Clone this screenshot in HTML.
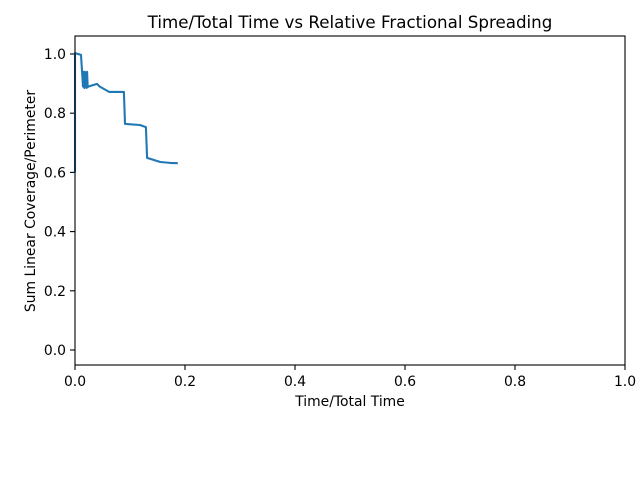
<!DOCTYPE html>
<html><head><meta charset="utf-8"><style>
body{margin:0;background:#fff;font-family:"Liberation Sans","DejaVu Sans",sans-serif}
</style></head><body>
<svg id="chart" width="640" height="480" xmlns="http://www.w3.org/2000/svg" font-family="DejaVu Sans, Liberation Sans, sans-serif">
<rect width="640" height="480" fill="#fff"/>
<text x="350" y="28" font-size="16.7" text-anchor="middle">Time/Total Time vs Relative Fractional Spreading</text>
<g id="xt"></g><g id="yt"></g>
<path id="line" fill="none" stroke="#1f77b4" stroke-width="2.08" stroke-linejoin="round"/>
<rect x="75" y="36" width="550" height="329" fill="none" stroke="#000" stroke-width="1.1"/>
<text x="350" y="406" font-size="13.9" text-anchor="middle">Time/Total Time</text>
<text transform="translate(35,201) rotate(-90)" font-size="13.9" text-anchor="middle">Sum Linear Coverage/Perimeter</text>
</svg>
<script>
const xs=[0,0,0.011,0.0145,0.016,0.017,0.018,0.019,0.020,0.021,0.022,0.023,0.024,0.04,0.045,0.062,0.089,0.091,0.118,0.129,0.131,0.155,0.173,0.187];
const ys=[0.6,1.003,0.997,0.89,0.94,0.885,0.94,0.89,0.935,0.885,0.94,0.888,0.89,0.899,0.89,0.872,0.872,0.764,0.76,0.753,0.649,0.635,0.632,0.631];
const xTicks=[0,0.2,0.4,0.6,0.8,1.0];
const xTickLabels=["0.0","0.2","0.4","0.6","0.8","1.0"];
const yTicks=[0,0.2,0.4,0.6,0.8,1.0];
const yTickLabels=["0.0","0.2","0.4","0.6","0.8","1.0"];
const X=v=>75+v*550;
const Y=v=>350-v*296;
const NS="http://www.w3.org/2000/svg";
const xt=document.getElementById('xt'),yt=document.getElementById('yt');
xTicks.forEach((t,i)=>{
 const l=document.createElementNS(NS,'line');
 l.setAttribute('x1',X(t));l.setAttribute('x2',X(t));l.setAttribute('y1',365);l.setAttribute('y2',370);l.setAttribute('stroke','#000');l.setAttribute('stroke-width','1.1');
 
 
 xt.appendChild(l);
 const s=document.createElementNS(NS,'text');
 s.setAttribute('x',X(t));s.setAttribute('y',386);s.setAttribute('font-size','13.9');s.setAttribute('text-anchor','middle');s.textContent=xTickLabels[i];
 
 
 xt.appendChild(s);
});
yTicks.forEach((t,i)=>{
 const l=document.createElementNS(NS,'line');
 l.setAttribute('x1',70);l.setAttribute('x2',75);l.setAttribute('y1',Y(t));l.setAttribute('y2',Y(t));l.setAttribute('stroke','#000');l.setAttribute('stroke-width','1.1');
 
 
 yt.appendChild(l);
 const s=document.createElementNS(NS,'text');
 s.setAttribute('x',66);s.setAttribute('y',Y(t)+5);s.setAttribute('font-size','13.9');s.setAttribute('text-anchor','end');s.textContent=yTickLabels[i];
 
 
 yt.appendChild(s);
});
document.getElementById('line').setAttribute('d',xs.map((x,i)=>(i?'L':'M')+X(x).toFixed(1)+','+Y(ys[i]).toFixed(1)).join(''));
</script>
</body></html>
